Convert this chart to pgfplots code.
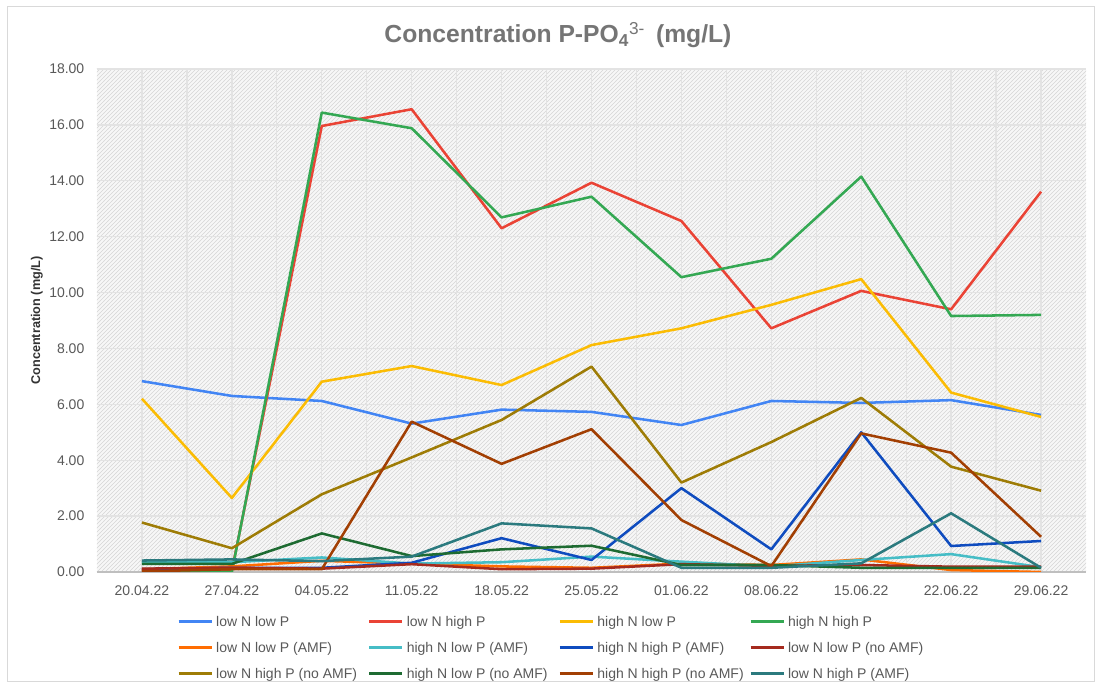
\documentclass[border=0pt]{standalone}
\usepackage{fontspec}
\setmainfont{Liberation Sans}
\usepackage{pgfplots}
\pgfplotsset{compat=1.18}
\usetikzlibrary{patterns}
\definecolor{cA}{HTML}{4285F4}
\definecolor{cB}{HTML}{EA4335}
\definecolor{cC}{HTML}{FBBC04}
\definecolor{cD}{HTML}{34A853}
\definecolor{cE}{HTML}{FF6D01}
\definecolor{cF}{HTML}{46BDC6}
\definecolor{cG}{HTML}{0F4CBF}
\definecolor{cH}{HTML}{A52A1E}
\definecolor{cI}{HTML}{9E7C06}
\definecolor{cJ}{HTML}{1E6B32}
\definecolor{cK}{HTML}{A23F03}
\definecolor{cL}{HTML}{2B7A7E}
\newcommand{\legtxt}[1]{\makebox[111.5pt][l]{#1}}
\begin{document}
\begin{tikzpicture}[x=1pt,y=1pt]
\useasboundingbox (0,0) rectangle (825.75,516.75);
\fill[white] (0,0) rectangle (825.75,516.75);
\draw[black!15, line width=0.75pt] (5.25,5.25) rectangle (820.5,511.5);
\begin{axis}[
  at={(72.75pt,87.75pt)}, anchor=south west,
  scale only axis, width=741.75pt, height=377.25pt,
  xmin=-0.5, xmax=10.5, ymin=0, ymax=18,
  xtick={0,...,10},
  xticklabels={20.04.22,27.04.22,04.05.22,11.05.22,18.05.22,25.05.22,01.06.22,08.06.22,15.06.22,22.06.22,29.06.22},
  minor xtick={0.5,1.5,...,9.5},
  ytick={0,2,...,18},
  grid=both,
  major grid style={black!11, line width=1pt},
  minor grid style={black!11, line width=1pt},
  extra y ticks={0}, extra y tick labels={},
  extra y tick style={grid=major, major grid style={black!25, line width=1pt}},
  major tick length=0pt, minor tick length=0pt,
  axis line style={draw=none},
  axis background/.style={fill=black!3, postaction={pattern=north east lines, pattern color=black!16}},
  /pgf/number format/.cd, fixed, fixed zerofill, precision=2, assume math mode=true,
  /pgfplots/.cd,
  ticklabel style={font=\fontsize{10.5}{12}\selectfont, text=black!65},
  yticklabel style={xshift=-6pt},
  xticklabel style={yshift=-6.5pt},
  title={Concentration P-PO\textsubscript{4}{\mdseries\textsuperscript{3-}}\, (mg/L)},
  title style={at={(axis description cs:0.4661,1.0517)}, anchor=center, font=\bfseries\fontsize{18.5}{21}\selectfont, text=black!54},
  ylabel={Concentration (mg/L)},
  ylabel style={at={(axis description cs:-0.0607,0.5)}, anchor=center, font=\bfseries\fontsize{9.5}{11}\selectfont, text=black!80},
  legend columns=4,
  legend cell align=left,
  legend style={at={(axis description cs:0.0809,-0.0716)}, anchor=north west, draw=none, fill=none, inner sep=0pt, column sep=0pt, row sep=0pt,
    nodes={inner xsep=2.25pt, inner ysep=0pt, text height=13.5pt, text depth=6pt, font=\fontsize{10.5}{12}\selectfont, text=black!65}},
  legend image code/.code={\draw[#1, line width=2.2pt] (0pt,0pt) -- (24.75pt,0pt);},
  every axis plot/.append style={line width=1.9pt, line join=round, mark=none},
]
\addplot[cA] coordinates {(0,6.83)(1,6.30)(2,6.12)(3,5.31)(4,5.81)(5,5.73)(6,5.26)(7,6.12)(8,6.05)(9,6.15)(10,5.62)};
\addlegendentry{\legtxt{low N low P}}
\addplot[cB] coordinates {(0,0.05)(1,0.05)(2,15.96)(3,16.56)(4,12.30)(5,13.93)(6,12.56)(7,8.72)(8,10.06)(9,9.40)(10,13.61)};
\addlegendentry{\legtxt{low N high P}}
\addplot[cC] coordinates {(0,6.20)(1,2.65)(2,6.81)(3,7.37)(4,6.69)(5,8.12)(6,8.72)(7,9.56)(8,10.48)(9,6.42)(10,5.55)};
\addlegendentry{\legtxt{high N low P}}
\addplot[cD] coordinates {(0,0.0)(1,0.0)(2,16.44)(3,15.88)(4,12.69)(5,13.43)(6,10.55)(7,11.21)(8,14.15)(9,9.16)(10,9.20)};
\addlegendentry{\legtxt{high N high P}}
\addplot[cE] coordinates {(0,0.10)(1,0.20)(2,0.40)(3,0.30)(4,0.20)(5,0.15)(6,0.30)(7,0.25)(8,0.45)(9,0.07)(10,0.0)};
\addlegendentry{\legtxt{low N low P (AMF)}}
\addplot[cF] coordinates {(0,0.35)(1,0.35)(2,0.52)(3,0.30)(4,0.35)(5,0.55)(6,0.37)(7,0.20)(8,0.43)(9,0.64)(10,0.17)};
\addlegendentry{\legtxt{high N low P (AMF)}}
\addplot[cG] coordinates {(0,0.10)(1,0.15)(2,0.15)(3,0.33)(4,1.21)(5,0.43)(6,3.00)(7,0.81)(8,5.00)(9,0.93)(10,1.11)};
\addlegendentry{\legtxt{high N high P (AMF)}}
\addplot[cH] coordinates {(0,0.12)(1,0.15)(2,0.12)(3,0.28)(4,0.10)(5,0.12)(6,0.28)(7,0.22)(8,0.25)(9,0.19)(10,0.19)};
\addlegendentry{\legtxt{low N low P (no AMF)}}
\addplot[cI] coordinates {(0,1.77)(1,0.85)(2,2.78)(3,4.10)(4,5.44)(5,7.35)(6,3.20)(7,4.65)(8,6.23)(9,3.77)(10,2.91)};
\addlegendentry{\legtxt{low N high P (no AMF)}}
\addplot[cJ] coordinates {(0,0.29)(1,0.29)(2,1.38)(3,0.57)(4,0.81)(5,0.94)(6,0.25)(7,0.25)(8,0.15)(9,0.15)(10,0.15)};
\addlegendentry{\legtxt{high N low P (no AMF)}}
\addplot[cK] coordinates {(0,0.02)(1,0.10)(2,0.10)(3,5.38)(4,3.87)(5,5.11)(6,1.86)(7,0.21)(8,4.96)(9,4.27)(10,1.26)};
\addlegendentry{\legtxt{high N high P (no AMF)}}
\addplot[cL] coordinates {(0,0.41)(1,0.45)(2,0.39)(3,0.55)(4,1.74)(5,1.56)(6,0.15)(7,0.15)(8,0.31)(9,2.10)(10,0.15)};
\addlegendentry{\legtxt{low N high P (AMF)}}
\end{axis}
\end{tikzpicture}
\end{document}
